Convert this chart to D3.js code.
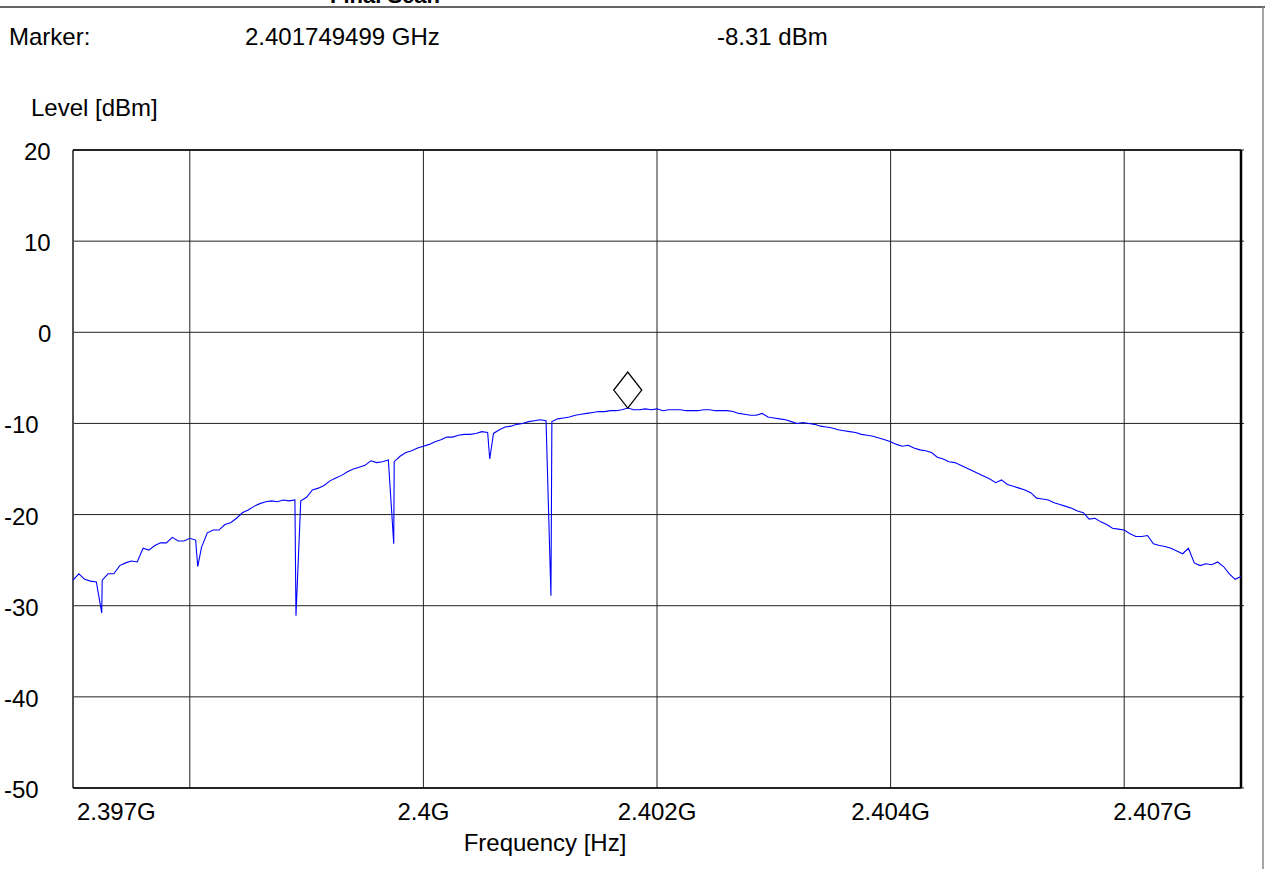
<!DOCTYPE html>
<html>
<head>
<meta charset="utf-8">
<script src="https://cdn.jsdelivr.net/npm/d3@7"></script>
<style>
  body { margin: 0; background: #fff; }
  text { font-family: "Liberation Sans", Arial, sans-serif; }
</style>
</head>
<body>
<script>
// sweep grid: 2.397 GHz .. 2.407 GHz, 50 kHz steps
let startHz = 2.397e9;
let stepHz = 0.05e6;
let levels = [
  -27.2, -26.5, -27.1, -27.3, -27.4, -27.2, -26.5, -26.5, -25.6, -25.3,
  -25.1, -25.2, -23.7, -23.9, -23.4, -23.1, -23.1, -22.5, -22.9, -22.9,
  -22.6, -22.8, -23.6, -22.0, -21.7, -21.7, -21.1, -20.9, -20.4, -19.8,
  -19.5, -19.1, -18.8, -18.6, -18.5, -18.6, -18.4, -18.5, -18.4, -18.5,
  -18.1, -17.3, -17.1, -16.8, -16.3, -16.0, -15.7, -15.3, -15.0, -14.8,
  -14.6, -14.1, -14.3, -14.2, -14.0, -14.2, -13.6, -13.2, -13.0, -12.7,
  -12.5, -12.3, -12.0, -11.8, -11.5, -11.5, -11.3, -11.2, -11.2, -11.1,
  -10.9, -11.0, -11.1, -10.7, -10.4, -10.3, -10.1, -10.0, -9.8, -9.7,
  -9.6, -9.7, -9.8, -9.5, -9.4, -9.3, -9.1, -9.0, -8.9, -8.8,
  -8.7, -8.7, -8.6, -8.6, -8.5, -8.31, -8.5, -8.5, -8.4, -8.5,
  -8.4, -8.6, -8.5, -8.5, -8.5, -8.6, -8.6, -8.6, -8.5, -8.5,
  -8.6, -8.6, -8.6, -8.7, -8.9, -9.0, -9.1, -9.1, -8.9, -9.3,
  -9.4, -9.5, -9.6, -9.8, -10.0, -9.9, -10.0, -10.1, -10.3, -10.4,
  -10.5, -10.7, -10.8, -10.9, -11.0, -11.2, -11.3, -11.4, -11.6, -11.8,
  -12.0, -12.3, -12.5, -12.4, -12.7, -12.9, -13.0, -13.2, -13.7, -13.9,
  -14.2, -14.3, -14.6, -14.9, -15.2, -15.5, -15.8, -16.1, -16.5, -16.2,
  -16.7, -16.9, -17.1, -17.3, -17.6, -18.2, -18.3, -18.4, -18.7, -18.9,
  -19.1, -19.3, -19.6, -19.8, -20.5, -20.4, -20.8, -21.1, -21.5, -21.6,
  -21.7, -22.1, -22.4, -22.4, -22.3, -23.2, -23.4, -23.5, -23.7, -24.0,
  -24.3, -23.7, -25.3, -25.6, -25.4, -25.5, -25.2, -25.7, -26.5, -27.1,
  -26.8
];
// narrow notches between sweep points
let notchHz = [2.397246e9, 2.398068e9, 2.398909e9, 2.399746e9, 2.400568e9, 2.401092e9];
let notchLevel = [-30.8, -25.7, -31.1, -23.2, -13.9, -28.9];

let markerHz = 2.401749499e9;
let markerLevel = -8.31;

let yTicks = [20, 10, 0, -10, -20, -30, -40, -50];
let xGrid = [2.398e9, 2.400e9, 2.402e9, 2.404e9, 2.406e9];
let xLabels = [
  { hz: 2.397e9, text: '2.397G' },
  { hz: 2.400e9, text: '2.4G' },
  { hz: 2.402e9, text: '2.402G' },
  { hz: 2.404e9, text: '2.404G' },
  { hz: 2.407e9, text: '2.407G' }
];

let width = 1265, height = 869;
let plotLeft = 73, plotRight = 1241, plotTop = 150, plotBottom = 788;

let svg = d3.select('body').append('svg')
  .attr('width', width)
  .attr('height', height);

let x = d3.scaleLinear().domain([2.397e9, 2.407e9]).range([plotLeft, plotRight]);
let y = d3.scaleLinear().domain([-50, 20]).range([plotBottom, plotTop]);

// outer frame
svg.append('line')
  .attr('x1', 0).attr('x2', width).attr('y1', 7).attr('y2', 7)
  .attr('stroke', '#666').attr('stroke-width', 2);
svg.append('line')
  .attr('x1', 1263).attr('x2', 1263).attr('y1', 7).attr('y2', height)
  .attr('stroke', '#888').attr('stroke-width', 1.5);

// cut-off title above the frame
svg.append('text')
  .attr('x', 330).attr('y', 3)
  .attr('font-size', 22).attr('font-weight', 'bold')
  .text('Final Scan');

// marker readout
svg.append('text').attr('x', 9).attr('y', 45).attr('font-size', 24).text('Marker:');
svg.append('text').attr('x', 245).attr('y', 45).attr('font-size', 24)
  .text((markerHz / 1e9).toFixed(9) + ' GHz');
svg.append('text').attr('x', 717).attr('y', 45).attr('font-size', 24)
  .text(markerLevel.toFixed(2) + ' dBm');

svg.append('text').attr('x', 31).attr('y', 116).attr('font-size', 24).text('Level [dBm]');

// grid
svg.append('g').selectAll('line').data(yTicks)
  .enter().append('line')
  .attr('x1', plotLeft).attr('x2', plotRight + 3)
  .attr('y1', d => y(d)).attr('y2', d => y(d))
  .attr('stroke', '#222').attr('stroke-width', 1);

svg.append('g').selectAll('line').data(xGrid)
  .enter().append('line')
  .attr('x1', d => x(d)).attr('x2', d => x(d))
  .attr('y1', plotTop).attr('y2', plotBottom)
  .attr('stroke', '#222').attr('stroke-width', 1);

// plot border
svg.append('line').attr('x1', plotLeft).attr('x2', plotLeft).attr('y1', plotTop).attr('y2', plotBottom)
  .attr('stroke', '#555').attr('stroke-width', 2);
svg.append('line').attr('x1', plotLeft).attr('x2', plotRight).attr('y1', plotTop).attr('y2', plotTop)
  .attr('stroke', '#000').attr('stroke-width', 1.5);
svg.append('line').attr('x1', plotLeft).attr('x2', plotRight).attr('y1', plotBottom).attr('y2', plotBottom)
  .attr('stroke', '#000').attr('stroke-width', 1.5);
svg.append('line').attr('x1', plotRight).attr('x2', plotRight).attr('y1', plotTop).attr('y2', plotBottom)
  .attr('stroke', '#000').attr('stroke-width', 2.5);

// y tick labels
svg.append('g').selectAll('text').data(yTicks)
  .enter().append('text')
  .attr('x', d => d > 0 ? 24 : (d === 0 ? 38 : 4))
  .attr('y', d => y(d) + 10)
  .attr('font-size', 24)
  .text(d => String(d));

// x tick labels
svg.append('g').selectAll('text').data(xLabels)
  .enter().append('text')
  .attr('x', (d, i) => i === 0 ? x(d.hz) + 4 : (i === xLabels.length - 1 ? x(d.hz) - 49 : x(d.hz)))
  .attr('y', plotBottom + 32)
  .attr('text-anchor', (d, i) => i === 0 ? 'start' : (i === xLabels.length - 1 ? 'end' : 'middle'))
  .attr('font-size', 24)
  .text(d => d.text);

svg.append('text').attr('x', 545).attr('y', 851).attr('text-anchor', 'middle')
  .attr('font-size', 24).text('Frequency [Hz]');

// trace
let points = levels.map((v, i) => ({ hz: startHz + i * stepHz, level: v }))
  .concat(notchHz.map((h, i) => ({ hz: h, level: notchLevel[i] })))
  .sort((a, b) => a.hz - b.hz);

let line = d3.line().x(d => x(d.hz)).y(d => y(d.level));

svg.append('path')
  .datum(points)
  .attr('d', line)
  .attr('fill', 'none')
  .attr('stroke', '#0000ff')
  .attr('stroke-width', 1.1);

// marker diamond, tip sitting on the trace
let mx = x(markerHz), my = y(markerLevel);
svg.append('path')
  .attr('d', `M${mx},${my} L${mx + 14},${my - 18} L${mx},${my - 36} L${mx - 14},${my - 18} Z`)
  .attr('fill', 'none')
  .attr('stroke', '#000')
  .attr('stroke-width', 1.3);
</script>
</body>
</html>
